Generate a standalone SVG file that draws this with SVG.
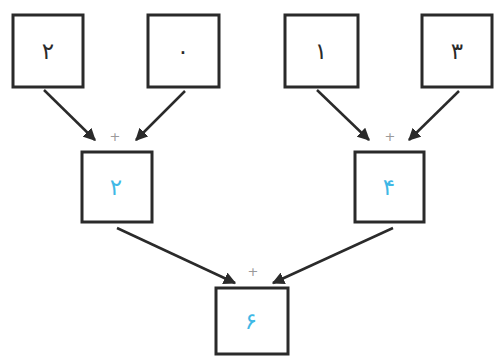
<svg xmlns="http://www.w3.org/2000/svg" width="494" height="356" viewBox="0 0 494 356">
<style>
.box{fill:#fff;stroke:#2a2a2a;stroke-width:3}
.d{font-family:"DejaVu Sans","Noto Sans",sans-serif;font-size:23px;text-anchor:middle;dominant-baseline:central}
.k{fill:#2a2a2a}
.b{fill:#3fb8e6}
.p{font-family:"DejaVu Sans",sans-serif;font-size:13px;fill:#9a9a9a;text-anchor:middle;dominant-baseline:central}
.e{stroke:#2a2a2a;stroke-width:2.5;fill:none;marker-end:url(#ah)}
</style>
<defs>
<marker id="ah" viewBox="0 0 10 10" refX="9" refY="5" markerWidth="5" markerHeight="5" orient="auto" markerUnits="strokeWidth">
<path d="M0,0 L10,5 L0,10 Z" fill="#2a2a2a"/>
</marker>
</defs>
<rect width="494" height="356" fill="#fff"/>
<g id="connectors">
<line class="e" x1="44" y1="90" x2="95" y2="140"/>
<line class="e" x1="185" y1="91" x2="136" y2="140"/>
<line class="e" x1="317" y1="90" x2="369" y2="140"/>
<line class="e" x1="459" y1="91" x2="409" y2="140"/>
<line class="e" x1="117" y1="228" x2="235" y2="283"/>
<line class="e" x1="393" y1="228" x2="273" y2="283"/>
<text class="p" x="115" y="136">+</text>
<text class="p" x="390" y="136">+</text>
<text class="p" x="253" y="271">+</text>
</g>
<g id="n1"><rect class="box" x="13" y="15" width="70" height="72"/><text class="d k" x="48" y="51">۲</text></g>
<g id="n2"><rect class="box" x="148" y="15" width="71" height="72"/><text class="d k" x="183" y="51">۰</text></g>
<g id="n3"><rect class="box" x="285" y="15" width="73" height="72"/><text class="d k" x="321" y="51">۱</text></g>
<g id="n4"><rect class="box" x="422" y="15" width="70" height="72"/><text class="d k" x="457" y="51">۳</text></g>
<g id="n5"><rect class="box" x="82" y="152" width="70" height="70"/><text class="d b" x="116" y="187">۲</text></g>
<g id="n6"><rect class="box" x="355" y="152" width="69" height="70"/><text class="d b" x="389" y="187">۴</text></g>
<g id="n7"><rect class="box" x="216" y="288" width="72" height="66"/><text class="d b" x="251" y="321">۶</text></g>
</svg>
